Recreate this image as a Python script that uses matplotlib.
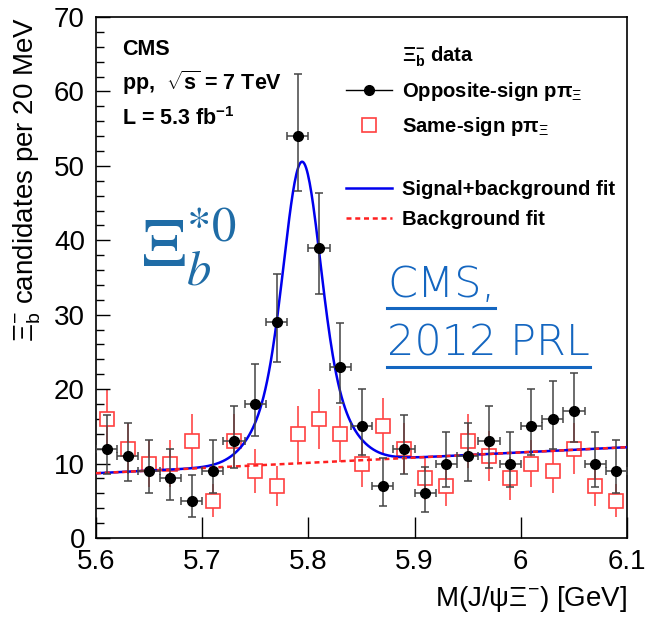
import numpy as np
import matplotlib.pyplot as plt
from matplotlib.lines import Line2D

plt.rcParams['font.family'] = ['Liberation Sans', 'DejaVu Sans']
plt.rcParams['mathtext.fontset'] = 'custom'
plt.rcParams['mathtext.rm'] = 'Liberation Sans'
plt.rcParams['mathtext.it'] = 'Liberation Sans:italic'
plt.rcParams['mathtext.bf'] = 'Liberation Sans:bold'

# bin centres (20 MeV bins)
mass = [5.61, 5.63, 5.65, 5.67, 5.69, 5.71, 5.73, 5.75, 5.77, 5.79, 5.81, 5.83, 5.85,
        5.87, 5.89, 5.91, 5.93, 5.95, 5.97, 5.99, 6.01, 6.03, 6.05, 6.07, 6.09]
opposite_sign = [12, 11, 9, 8, 5, 9, 13, 18, 29, 54, 39, 23, 15,
                 7, 12, 6, 10, 11, 13, 10, 15, 16, 17, 10, 9]
same_sign = [16, 12, 10, 10, 13, 5, 13, 9, 7, 14, 16, 14, 10,
             15, 12, 8, 7, 13, 11, 8, 10, 9, 12, 7, 5]

# fit parameters
bg_lo, bg_hi = 8.7, 12.2          # background at 5.6 and 6.1 GeV
peak_mean = 5.794
peak_height = 40.5
core_sigma, tail_sigma, core_frac = 0.016, 0.031, 0.65

mass = np.array(mass)
opp = np.array(opposite_sign, dtype=float)
same = np.array(same_sign, dtype=float)

opp_up = np.sqrt(opp + 0.75) + 1
opp_dn = np.sqrt(opp)
same_err = np.sqrt(same)

m = np.linspace(5.6, 6.1, 600)
bg = bg_lo + (bg_hi - bg_lo) * (m - 5.6) / 0.5
shape = (core_frac * np.exp(-0.5 * ((m - peak_mean) / core_sigma) ** 2)
         + (1 - core_frac) * np.exp(-0.5 * ((m - peak_mean) / tail_sigma) ** 2))
total = bg + peak_height * shape

fig = plt.figure(figsize=(6.49, 6.18), dpi=100)
ax = fig.add_axes([96 / 649, 1 - 538 / 618, 531 / 649, 521 / 618])

ax.errorbar(mass, same, yerr=same_err, fmt='none', ecolor='#ff5555', elinewidth=1.3, zorder=1)
ax.plot(mass, same, 's', ms=10, mfc='white', mec='#ff4040', mew=1.2, zorder=2)
ax.plot(m, total, color='#0000ee', lw=1.8, zorder=3)
ax.plot(m, bg, color='#ff2020', lw=1.8, ls=(0, (2, 1.5)), zorder=3.5)
ax.errorbar(mass, opp, yerr=[opp_dn, opp_up], xerr=0.01, fmt='o', color='black', ms=7,
            ecolor='#444444', elinewidth=1.1, capsize=3, capthick=1.1, zorder=4)

ax.set_xlim(5.6, 6.1)
ax.set_ylim(0, 70)
ax.set_xticks([5.6, 5.7, 5.8, 5.9, 6.0, 6.1])
ax.set_xticklabels(['5.6', '5.7', '5.8', '5.9', '6', '6.1'])
ax.set_yticks(np.arange(0, 71, 10))
ax.set_yticks(np.arange(0, 71, 2), minor=True)
ax.tick_params(axis='both', which='both', direction='in', labelsize=20, width=1)
ax.tick_params(axis='y', which='major', length=10, pad=8)
ax.tick_params(axis='y', which='minor', length=6)
ax.tick_params(axis='x', which='major', length=15, pad=8)
for s in ax.spines.values():
    s.set_linewidth(1.2)

ax.set_xlabel(r'M(J/ψ$\Xi^{-}$) [GeV]', fontsize=20, loc='right')
ax.set_ylabel(r'$\Xi^{-}_{\mathrm{b}}$ candidates per 20 MeV', fontsize=20, loc='top')
ax.xaxis.set_label_coords(1.0, -0.088)
ax.yaxis.set_label_coords(-0.10, 1.0)

ax.text(0.049, 0.937, 'CMS', transform=ax.transAxes, fontsize=15.5, fontweight='bold', va='center')
ax.text(0.049, 0.873, r'pp,  $\sqrt{\mathbf{s}}$ = 7 TeV', transform=ax.transAxes,
        fontsize=15.5, fontweight='bold', va='center')
ax.text(0.049, 0.806, r'L = 5.3 fb$^{\mathbf{-1}}$', transform=ax.transAxes,
        fontsize=15.5, fontweight='bold', va='center')

ax.text(0.085, 0.52, r'$\Xi_b^{*0}$', transform=ax.transAxes, fontsize=50,
        color='#1f6ca6', math_fontfamily='stix', va='baseline')

link1 = ax.text(0.548, 0.462, 'CMS,', transform=ax.transAxes, fontsize=31,
                color='#1466c0', va='baseline', family='DejaVu Sans', fontweight='light')
link2 = ax.text(0.548, 0.35, '2012 PRL', transform=ax.transAxes, fontsize=31,
                color='#1466c0', va='baseline', family='DejaVu Sans', fontweight='light')

blank = Line2D([], [], linestyle='none')
h_opp = Line2D([], [], color='black', marker='o', ms=7, lw=1)
h_same = Line2D([], [], linestyle='none', marker='s', ms=10, mfc='white', mec='#ff4040', mew=1.2)
h_fit = Line2D([], [], color='#0000ee', lw=1.8)
h_bg = Line2D([], [], color='#ff2020', lw=1.8, ls=(0, (2, 1.5)))
leg = ax.legend([blank, h_opp, h_same, blank, h_fit, h_bg],
                [r'$\mathbf{\Xi^{-}_{b}}$ data', r'Opposite-sign pπ$_{\Xi}$', r'Same-sign pπ$_{\Xi}$', '',
                 'Signal+background fit', 'Background fit'],
                loc='upper left', bbox_to_anchor=(0.470, 0.948), frameon=False,
                prop={'weight': 'bold', 'size': 14.6}, labelspacing=0.57,
                handlelength=2.3, handletextpad=0.5, borderpad=0, borderaxespad=0)

fig.canvas.draw()
r = fig.canvas.get_renderer()
for t in (link1, link2):
    bb = t.get_window_extent(r)
    y = bb.y0 - 3
    fig.add_artist(Line2D([bb.x0 / fig.bbox.width, bb.x1 / fig.bbox.width],
                          [y / fig.bbox.height, y / fig.bbox.height],
                          color='#1466c0', lw=2.2))

fig.savefig('out.png', dpi=100)
